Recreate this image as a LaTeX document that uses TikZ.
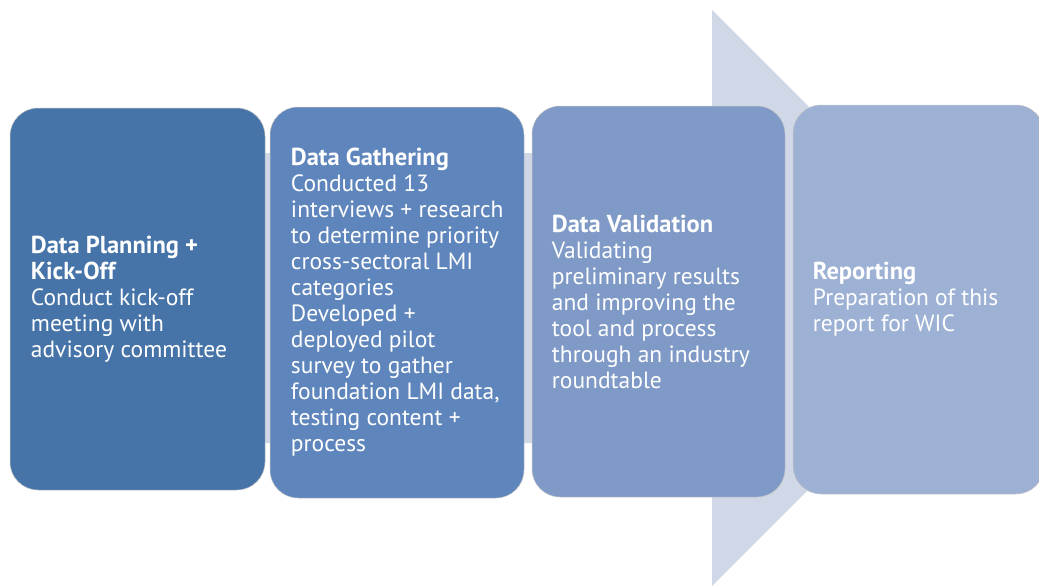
\documentclass[tikz,border=0pt]{standalone}
\usepackage{fontspec}
\setmainfont{PT Sans}
\usetikzlibrary{positioning}
\usetikzlibrary{calc}
\definecolor{arrowgrey}{HTML}{D0D8E8}
\definecolor{planblue}{HTML}{4674A8}
\definecolor{gatherblue}{HTML}{5F86BC}
\definecolor{validblue}{HTML}{7F9AC6}
\definecolor{reportblue}{HTML}{9DB1D5}
\newcommand{\phasehead}[1]{{\fontsize{24.5}{26}\selectfont\bfseries #1}}
\tikzset{
	phase/.style={rectangle, rounded corners=28pt, draw=gray!45, line width=0.5pt, inner sep=0pt},
	phasetext/.style={anchor=west, align=left, text=white, inner sep=0pt, font=\fontsize{23.5}{26}\selectfont}
}

\begin{document}
\begin{tikzpicture}[x=1pt, y=-1pt]
\useasboundingbox (0,0) rectangle (1039,586);
% big arrow behind the phases
\fill[arrowgrey] (40,153) -- (712,153) -- (712,10) -- (1000,298) -- (712,586) -- (712,443) -- (40,443) -- cycle;

\node[phase, fill=planblue, minimum width=255pt, minimum height=382pt] (plan) at (137.5,299) {};
\node[phase, fill=gatherblue, minimum width=254pt, minimum height=391pt] (gather) at (397,302.5) {};
\node[phase, fill=validblue, minimum width=253pt, minimum height=391pt] (valid) at (658.5,301.5) {};
\node[phase, fill=reportblue, minimum width=251pt, minimum height=389pt] (report) at (918.5,299.5) {};

\node[phasetext] (plantext) at ($(plan.west)+(21,0)$) {\phasehead{Data Planning +}\\\phasehead{Kick-Off}\\Conduct kick-off\\meeting with\\advisory committee};
\node[phasetext] (gathertext) at ($(gather.west)+(21,0)$) {\phasehead{Data Gathering}\\Conducted 13\\interviews + research\\to determine priority\\cross-sectoral LMI\\categories\\Developed +\\deployed pilot\\survey to gather\\foundation LMI data,\\testing content +\\process};
\node[phasetext] (validtext) at ($(valid.west)+(20,0)$) {\phasehead{Data Validation}\\Validating\\preliminary results\\and improving the\\tool and process\\through an industry\\roundtable};
\node[phasetext] (reporttext) at ($(report.west)+(20,0)$) {\phasehead{Reporting}\\Preparation of this\\report for WIC};
\end{tikzpicture}
\end{document}
